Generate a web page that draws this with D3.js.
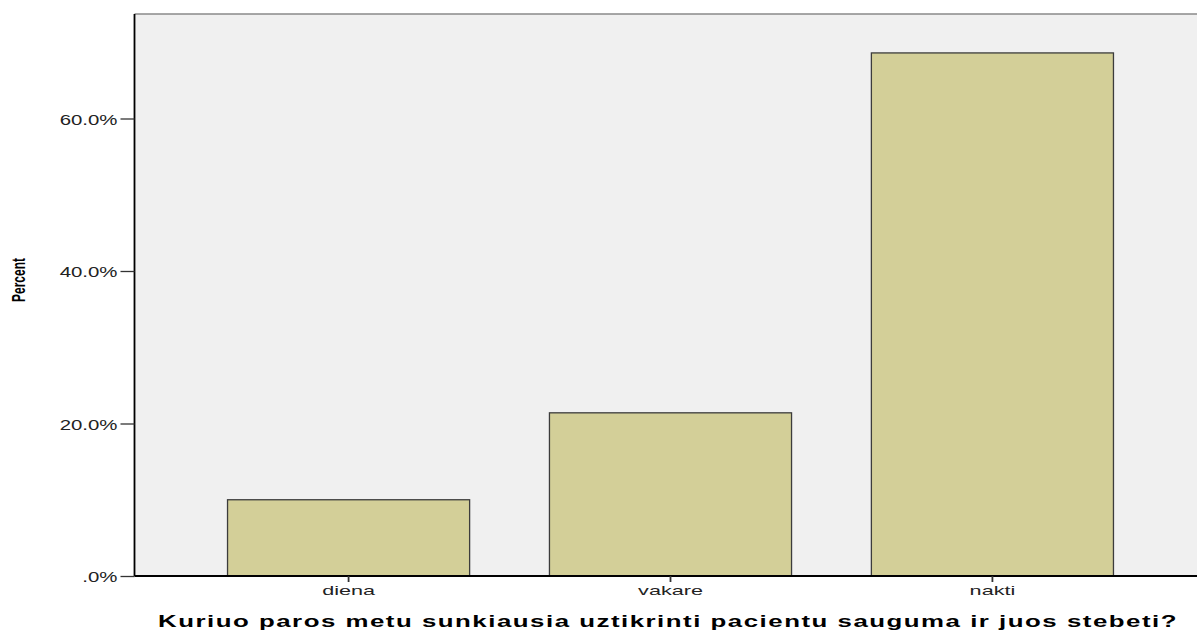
<!DOCTYPE html>
<html>
<head>
<meta charset="utf-8">
<script src="https://cdn.jsdelivr.net/npm/d3@7"></script>
<style>
  html, body { margin: 0; padding: 0; background: #ffffff; overflow: hidden; }
  svg { display: block; }
</style>
</head>
<body>
<svg id="chart" width="1197" height="634"></svg>
<script>
const categories = ["diena", "vakare", "nakti"];
const percentValues = [10.0, 21.4, 68.6];
const yTickValues = [0, 20, 40, 60];
const yTickLabels = [".0%", "20.0%", "40.0%", "60.0%"];
const xTitle = "Kuriuo paros metu sunkiausia uztikrinti pacientu sauguma ir juos stebeti?";
const yTitle = "Percent";

const svg = d3.select("#chart");
const plot = { left: 134.5, top: 14, right: 1206.5, bottom: 576 };
const FONT = "'Liberation Sans', Arial, sans-serif";

const x = d3.scaleBand()
  .domain(categories)
  .range([plot.left, plot.right])
  .paddingInner(0.248)
  .paddingOuter(0.289);

const y = d3.scaleLinear()
  .domain([0, 20])
  .range([plot.bottom, plot.bottom - 152.5]);

// plot background
svg.append("rect")
  .attr("x", plot.left).attr("y", plot.top)
  .attr("width", plot.right - plot.left).attr("height", plot.bottom - plot.top)
  .attr("fill", "#f0f0f0");
svg.append("line")
  .attr("x1", plot.left).attr("x2", plot.right)
  .attr("y1", plot.top).attr("y2", plot.top)
  .attr("stroke", "#8a8a8a").attr("stroke-width", 1.5);

// bars
svg.append("g").selectAll("rect")
  .data(categories)
  .join("rect")
  .attr("x", d => x(d))
  .attr("width", x.bandwidth())
  .attr("y", (d, i) => y(percentValues[i]))
  .attr("height", (d, i) => y(0) - y(percentValues[i]))
  .attr("fill", "#d3cf98")
  .attr("stroke", "#3c3c3c")
  .attr("stroke-width", 1.3);

// stretch helper: widen text glyphs horizontally by factor k
function stretch(sel, k) {
  sel.each(function () {
    const w = this.getComputedTextLength();
    d3.select(this).attr("textLength", w * k).attr("lengthAdjust", "spacingAndGlyphs");
  });
}

// y axis
const yAxis = d3.axisLeft(y)
  .tickValues(yTickValues)
  .tickSize(14)
  .tickFormat((d, i) => yTickLabels[i]);
const gy = svg.append("g")
  .attr("transform", `translate(${plot.left},0)`)
  .call(yAxis);
gy.select(".domain").attr("stroke", "#000").attr("stroke-width", 1.8)
  .attr("d", `M0,${plot.top}V${plot.bottom}`);
gy.selectAll(".tick line").attr("stroke", "#333").attr("stroke-width", 1.3);
const yText = gy.selectAll(".tick text")
  .attr("x", -17)
  .attr("dy", "0.38em")
  .attr("fill", "#222")
  .style("font-family", FONT)
  .style("font-size", "15px");
stretch(yText, 1.36);

// x axis
const xAxis = d3.axisBottom(x).tickSize(6).tickSizeOuter(0);
const gx = svg.append("g")
  .attr("transform", `translate(0,${plot.bottom})`)
  .call(xAxis);
gx.select(".domain").attr("stroke", "#000").attr("stroke-width", 1.8)
  .attr("d", `M${plot.left},0H${plot.right}`);
gx.selectAll(".tick line").attr("stroke", "#333").attr("stroke-width", 1.8);
const xText = gx.selectAll(".tick text")
  .attr("y", 9)
  .attr("fill", "#222")
  .style("font-family", FONT)
  .style("font-size", "13.5px");
stretch(xText, 1.6);

// x title
svg.append("text")
  .attr("x", 158).attr("y", 627)
  .attr("textLength", 1020)
  .attr("lengthAdjust", "spacingAndGlyphs")
  .attr("fill", "#000")
  .style("font-family", FONT)
  .style("font-weight", "bold")
  .style("font-size", "17px")
  .style("letter-spacing", "1px")
  .text(xTitle);

// y title
svg.append("text")
  .attr("transform", "translate(25,280) rotate(-90)")
  .attr("text-anchor", "middle")
  .attr("textLength", 44)
  .attr("lengthAdjust", "spacingAndGlyphs")
  .attr("fill", "#000")
  .style("font-family", FONT)
  .style("font-weight", "bold")
  .style("font-size", "18px")
  .text(yTitle);
</script>
</body>
</html>
